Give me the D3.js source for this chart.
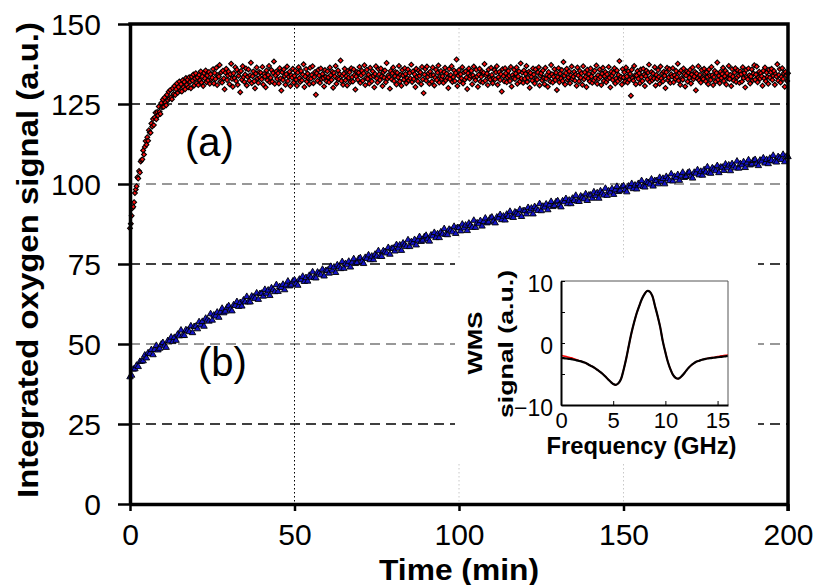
<!DOCTYPE html>
<html><head><meta charset="utf-8">
<script src="https://cdn.jsdelivr.net/npm/d3@7"></script>
<style>
body{margin:0;background:#fff}
svg{display:block}
text{font-family:Arial,"Liberation Sans",sans-serif;fill:#000}
</style>
</head><body>
<svg id="chart" width="815" height="585"></svg>
<script>
// ---------------- DATA ----------------
const xTicks = [0, 50, 100, 150, 200];
const yTicks = [0, 25, 50, 75, 100, 125, 150];
const timeStepA = 0.25;   // minutes between samples, series (a)
const timeStepB = 0.5;    // minutes between samples, series (b)

// series (a): red diamonds
const seriesA = [
86.2,87.6,90.1,92.5,92.9,94.3,97.2,98.3,99.3,102.1,101.7,104.1,103.6,107.0,107.5,107.7,110.5,109.2,111.6,113.4,
112.3,114.6,113.5,116.8,116.1,116.0,118.9,118.0,120.3,118.4,120.8,122.3,120.2,122.5,121.4,124.2,122.6,121.9,125.3,124.0,
126.4,124.1,127.0,125.5,124.6,127.9,126.2,128.8,126.7,129.4,127.1,126.5,129.9,128.1,130.6,127.8,129.6,131.4,128.5,130.3,
132.0,129.1,131.2,128.9,132.4,130.2,131.9,129.6,133.1,131.0,132.6,130.2,133.4,131.9,129.9,133.5,132.3,134.2,130.8,133.0,
134.6,131.5,133.3,130.9,134.1,132.4,135.2,131.7,133.6,130.6,134.7,133.0,135.5,131.8,133.9,132.4,135.0,131.3,134.3,132.7,
133.2,135.9,131.4,134.7,132.8,136.3,130.9,134.1,133.6,137.2,132.0,134.9,131.7,135.4,133.0,129.6,134.8,136.0,132.5,133.9,
135.1,131.2,134.3,137.6,132.9,130.4,134.6,133.1,136.5,132.2,135.7,131.0,133.8,134.9,128.7,135.3,132.6,136.8,133.4,131.9,
134.2,136.1,130.8,133.5,135.8,132.3,134.0,137.9,131.5,133.7,135.2,132.1,129.9,134.5,136.4,133.0,131.6,135.0,133.3,134.8,
132.7,136.6,131.1,134.4,133.6,130.2,135.5,132.4,134.1,136.9,131.8,133.2,135.6,132.0,134.7,138.3,131.3,133.9,135.2,132.8,
134.6,131.4,136.2,133.0,129.2,134.9,132.5,135.8,133.7,131.0,134.3,136.7,132.2,133.5,135.1,130.6,134.0,133.2,136.0,131.7,
133.8,135.4,132.6,130.7,134.8,136.5,133.1,131.9,135.3,132.4,134.2,137.4,130.3,133.6,135.9,132.0,134.5,133.0,131.2,136.3,
132.9,134.1,136.8,131.5,133.4,135.0,127.9,134.6,132.3,135.7,133.9,131.6,136.1,132.8,134.4,133.1,130.5,135.6,133.5,132.1,
135.2,133.3,131.8,136.4,134.0,132.5,135.1,130.1,134.7,133.6,136.9,131.3,133.0,135.5,132.7,134.3,138.6,132.2,133.8,131.0,
134.5,136.0,132.4,133.7,130.8,135.3,133.2,134.9,131.9,136.2,133.4,132.0,135.8,134.1,129.5,133.6,135.0,132.6,134.8,136.6,
131.6,133.9,135.4,132.3,134.6,137.1,130.9,133.1,135.7,132.8,134.2,131.4,136.3,133.5,132.1,135.2,133.8,130.2,134.4,136.8,
133.0,131.7,135.9,134.3,132.5,136.1,133.6,130.6,134.9,133.2,135.5,131.8,137.8,132.9,134.0,133.4,129.8,135.3,132.7,134.6,
136.4,132.2,133.7,135.0,131.1,134.8,133.3,136.9,132.0,134.1,130.7,135.6,133.9,132.6,136.2,134.4,131.5,133.1,135.8,132.4,
134.7,133.0,137.3,131.9,135.2,132.8,134.3,130.3,136.0,133.5,132.1,135.4,133.8,134.9,131.2,136.6,132.7,128.4,134.2,135.9,
132.3,136.7,133.4,134.6,131.3,135.1,133.9,132.0,136.4,134.0,130.8,133.2,135.7,132.5,134.8,137.0,131.7,133.6,135.3,132.9,
133.7,131.6,135.0,136.3,132.4,134.5,133.1,130.0,135.9,132.8,134.1,136.8,131.9,133.4,135.5,132.2,134.7,138.9,130.6,133.8,
135.6,132.1,134.3,133.0,136.5,131.4,134.9,132.6,135.2,133.3,129.7,134.6,136.1,132.9,133.8,135.4,131.2,134.0,136.7,133.1,
132.4,135.7,133.6,130.4,134.2,136.0,132.0,133.5,135.1,131.7,134.8,137.5,132.3,133.9,134.5,130.9,135.8,133.2,132.6,136.3,
134.1,131.5,133.0,135.6,132.7,134.9,136.8,131.0,133.4,135.0,132.5,134.3,128.9,135.9,133.7,132.1,136.2,134.6,131.8,133.3,
135.3,133.8,132.2,136.6,130.5,134.0,133.1,135.7,132.8,134.5,136.4,131.3,133.6,135.2,132.0,137.7,133.0,134.8,131.6,135.5,
132.9,134.4,136.9,131.9,133.2,135.1,130.1,134.7,133.5,132.3,136.1,134.2,131.4,135.8,133.0,132.6,134.9,136.5,130.8,133.9,
134.6,132.4,135.5,133.1,131.2,136.3,132.9,134.1,130.4,135.0,133.7,132.0,137.2,134.3,131.7,133.5,135.9,132.5,134.8,129.4,
133.4,136.2,131.8,134.5,133.0,135.6,132.2,138.1,133.8,131.1,134.7,136.0,132.6,133.3,135.2,131.5,134.0,136.7,132.8,133.6,
135.1,132.3,134.2,130.7,136.4,133.9,132.1,135.3,133.2,134.6,131.0,136.8,132.7,134.9,133.5,130.3,135.7,133.0,134.4,132.0,
136.1,133.6,131.6,134.8,132.4,135.4,133.1,137.0,131.3,134.0,132.9,135.8,133.4,130.9,134.5,136.3,132.2,133.7,135.0,131.8,
134.3,132.7,136.6,133.2,130.2,135.1,133.8,132.5,134.7,136.2,131.4,133.0,135.5,132.1,134.1,138.4,132.8,133.5,131.1,135.9,
133.3,134.9,132.0,136.4,133.6,131.7,135.2,132.6,134.4,127.6,135.7,133.1,132.3,136.9,134.0,131.2,133.9,135.3,132.9,134.6,
131.5,135.8,133.4,132.2,136.0,134.2,130.6,133.7,135.4,132.7,134.8,137.3,131.9,133.2,135.0,132.4,134.5,133.0,136.5,130.8,
134.1,132.8,135.6,133.5,131.3,136.7,133.0,134.6,132.1,135.1,133.8,130.0,134.9,136.3,132.5,133.3,135.9,131.6,134.3,133.6,
136.2,131.8,134.0,132.9,135.3,133.4,137.6,132.3,134.7,131.0,135.5,133.1,132.6,136.1,134.4,130.5,133.9,135.2,132.0,134.8,
133.2,135.7,131.4,134.2,136.4,132.7,133.6,135.0,129.3,134.5,133.0,136.8,132.4,134.1,131.7,135.6,133.3,132.8,136.0,134.6,
132.1,134.9,133.5,131.2,135.8,133.9,132.5,136.6,134.0,130.9,133.4,135.3,132.0,134.7,138.0,132.6,133.8,131.5,135.1,133.1,
134.4,136.3,132.2,133.7,135.4,131.1,134.6,133.0,136.9,132.8,134.1,130.6,135.9,133.6,132.3,134.8,136.2,131.9,133.3,135.5,
133.9,131.6,135.2,134.3,132.0,136.5,133.1,134.7,130.2,135.6,133.4,132.7,136.1,134.0,131.4,133.6,135.8,132.4,134.5,137.1,
132.6,134.2,136.7,131.8,133.3,135.1,132.9,134.6,133.7,130.7,135.4,133.0,136.4,132.1,134.8,133.5,131.3,135.7,133.2,134.9,
136.0,132.5,133.8,135.3,131.0,134.4,133.6,137.4,132.3,134.1,135.9,131.7,133.5,136.2,132.8,134.7,130.4,135.0,133.9,132.2,
134.6
];

// series (b): blue triangles
const seriesB = [
39.7,40.2,42.1,42.2,43.3,42.9,44.5,44.6,44.7,46.5,
45.6,47.2,47.0,48.2,46.6,48.2,49.5,48.1,48.6,49.9,
50.4,49.4,48.9,51.0,50.9,52.1,50.7,52.0,51.1,53.0,
52.5,54.3,52.6,52.6,54.4,54.2,53.8,55.6,53.5,55.4,
55.5,54.7,56.9,55.9,57.0,55.5,58.0,57.5,57.1,59.4,
57.4,59.0,58.7,59.9,58.3,59.9,61.1,59.7,60.2,61.4,
61.9,60.8,60.3,62.2,62.0,63.2,61.7,62.9,61.8,63.7,
63.1,64.8,63.1,63.1,64.9,64.6,64.2,65.9,63.9,65.7,
65.8,64.9,67.0,65.8,66.8,65.1,67.5,66.9,66.3,68.5,
66.4,67.9,67.6,68.6,66.9,68.4,69.6,68.1,68.4,69.6,
70.0,68.9,68.3,70.2,70.0,71.1,69.5,70.7,69.6,71.4,
70.8,72.5,70.7,70.6,72.4,72.1,71.6,73.3,71.2,72.9,
73.0,72.1,74.2,73.0,74.0,72.3,74.7,74.1,73.5,75.7,
73.6,75.1,74.7,75.8,74.0,75.5,76.6,75.1,75.4,76.6,
76.9,75.8,75.1,77.0,76.7,77.8,76.3,77.4,76.3,78.0,
77.4,79.1,77.4,77.3,79.1,78.8,78.4,80.1,78.0,79.8,
79.9,79.0,81.0,79.9,80.9,79.2,81.5,80.9,80.4,82.5,
80.4,81.9,81.5,82.6,80.9,82.4,83.5,82.0,82.4,83.5,
83.9,82.8,82.1,84.0,83.7,84.8,83.2,84.4,83.2,85.0,
84.3,86.0,84.2,84.1,85.8,85.5,85.0,86.7,84.5,86.3,
86.3,85.3,87.4,86.2,87.1,85.4,87.7,87.0,86.4,88.6,
86.4,87.8,87.5,88.5,86.8,88.2,89.3,87.8,88.1,89.3,
89.6,88.4,87.8,89.6,89.3,90.4,88.8,89.9,88.7,90.5,
89.8,91.4,89.7,89.5,91.2,90.9,90.4,92.0,89.8,91.6,
91.6,90.6,92.6,91.5,92.4,90.6,92.9,92.2,91.7,93.8,
91.6,93.0,92.7,93.7,91.9,93.4,94.5,92.9,93.2,94.4,
94.7,93.5,92.8,94.7,94.4,95.4,93.8,94.9,93.8,95.5,
94.8,96.4,94.6,94.5,96.2,95.8,95.3,96.9,94.8,96.5,
96.5,95.5,97.5,96.3,97.2,95.5,97.8,97.1,96.5,98.6,
96.4,97.8,97.4,98.5,96.7,98.1,99.2,97.6,98.0,99.1,
99.4,98.2,97.5,99.3,99.0,100.1,98.5,99.6,98.4,100.1,
99.4,101.0,99.2,99.0,100.7,100.4,99.9,101.5,99.3,101.0,
101.0,100.0,102.0,100.8,101.7,100.0,102.3,101.6,101.0,103.1,
100.9,102.3,101.9,102.9,101.1,102.5,103.6,102.0,102.3,103.4,
103.7,102.5,101.8,103.6,103.3,104.4,102.8,103.9,102.7,104.4,
103.7,105.3,103.5,103.3,105.0,104.6,104.1,105.7,103.5,105.2,
105.2,104.2,106.2,105.0,105.9,104.1,106.3,105.6,105.0,107.1,
104.9,106.3,105.9,106.9,105.1,106.5,107.5,105.9,106.2,107.3,
107.6,106.4,105.7,107.4,107.1,108.1,106.5,107.6,106.3,108.0,
107.3,108.9,107.1,106.8,108.5,108.1,107.6,109.2,106.9,108.6,
108.5
];

// inset: WMS signal vs frequency
const insetFreqStep = 0.25;
const insetXTicks = [0, 5, 10, 15];
const insetYTicks = [-10, 0, 10];
const insetBlack = [
-2.4,-2.45,-2.5,-2.55,-2.6,-2.7,-2.8,-2.9,-3.0,-3.15,-3.35,-3.6,-3.8,-4.05,-4.35,-4.65,
-5.0,-5.4,-5.85,-6.25,-6.6,-6.75,-6.5,-5.8,-4.3,-2.5,-0.4,1.6,3.3,4.8,6.0,7.1,
7.9,8.4,8.3,7.6,6.0,4.4,2.6,0.3,-1.5,-3.1,-4.3,-5.2,-5.65,-5.75,-5.45,-5.0,
-4.45,-3.95,-3.55,-3.25,-3.0,-2.85,-2.7,-2.6,-2.5,-2.45,-2.4,-2.35,-2.3,-2.25,-2.2,-2.15,
-2.1
];
const insetRed = [
-2.0,-2.1,-2.2,-2.3,-2.4,-2.55,-2.7,-2.85,-3.0,-3.15,-3.35,-3.6,-3.8,-4.05,-4.35,-4.65,
-5.0,-5.4,-5.85,-6.25,-6.6,-6.75,-6.5,-5.8,-4.3,-2.5,-0.4,1.6,3.3,4.8,6.0,7.1,
7.9,8.4,8.3,7.6,6.0,4.4,2.6,0.3,-1.5,-3.1,-4.3,-5.2,-5.65,-5.75,-5.45,-5.0,
-4.45,-3.95,-3.55,-3.25,-3.0,-2.85,-2.7,-2.6,-2.5,-2.4,-2.35,-2.3,-2.2,-2.1,-2.05,-2.0,
-1.9
];

// ---------------- DRAW ----------------
const svg = d3.select("#chart");
const L = 130, R = 788, T = 24, B = 504;
const x = d3.scaleLinear().domain([0, 200]).range([L, R]);
const y = d3.scaleLinear().domain([0, 150]).range([B, T]);
const FONT = "Arial,'Liberation Sans',sans-serif";

// horizontal dashed gridlines
const hGridColor = v => (v === 100 || v === 50) ? "#777" : "#000";
svg.append("g").selectAll("line").data(yTicks.filter(v => v > 0 && v < 150)).join("line")
  .attr("x1", L).attr("x2", R).attr("y1", d => y(d)).attr("y2", d => y(d))
  .attr("stroke", hGridColor).attr("stroke-width", 1.3).attr("stroke-dasharray", "10,6");

// vertical dotted gridlines
svg.append("g").selectAll("line").data(xTicks.filter(v => v > 0 && v < 200)).join("line")
  .attr("x1", d => x(d)).attr("x2", d => x(d)).attr("y1", T).attr("y2", B)
  .attr("stroke", d => d === 50 ? "#000" : "#c8c8c8").attr("stroke-width", 1)
  .attr("stroke-dasharray", "1.5,2.5");

// series (b): triangles
const triPath = d3.symbol(d3.symbolTriangle, 18)();
svg.append("g").selectAll("path").data(seriesB).join("path")
  .attr("d", triPath)
  .attr("transform", (d, i) => `translate(${x(i * timeStepB)},${y(d)})`)
  .attr("fill", "#1414c8").attr("stroke", "#000").attr("stroke-width", 0.9);

// series (a): diamonds
const diaPath = d3.symbol(d3.symbolSquare, 12)();
svg.append("g").selectAll("path").data(seriesA).join("path")
  .attr("d", diaPath)
  .attr("transform", (d, i) => `translate(${x(i * timeStepA)},${y(d)}) rotate(45)`)
  .attr("fill", "#ff1010").attr("stroke", "#000").attr("stroke-width", 1.1);

// labels (a), (b)
svg.append("text").attr("x", 185).attr("y", 156).attr("font-size", 40).text("(a)");
svg.append("text").attr("x", 198).attr("y", 376).attr("font-size", 40).text("(b)");

// ---------- inset ----------
svg.append("rect").attr("x", 455).attr("y", 258).attr("width", 303).attr("height", 204).attr("fill", "#fff");
const iL = 561, iR = 728, iT = 281, iB = 405;
const ix = d3.scaleLinear().domain([0, 16]).range([iL, iR]);
const iy = d3.scaleLinear().domain([-10, 10]).range([iB, iT]);
const line = d3.line().x((d, i) => ix(i * insetFreqStep)).y(d => iy(d)).curve(d3.curveCatmullRom);
svg.append("path").datum(insetRed).attr("d", line).attr("fill", "none").attr("stroke", "#ff0000").attr("stroke-width", 1.6);
svg.append("path").datum(insetBlack).attr("d", line).attr("fill", "none").attr("stroke", "#000").attr("stroke-width", 2.2);
// frame top/right thin
svg.append("path").attr("d", `M${iL},${iT}H${iR}V${iB}`).attr("fill", "none").attr("stroke", "#555").attr("stroke-width", 1);
// inset axes
const ixAxis = svg.append("g").attr("transform", `translate(0,${iB})`)
  .call(d3.axisBottom(ix).tickValues(insetXTicks).tickSize(-4).tickSizeOuter(0).tickFormat(d3.format("d")));
ixAxis.selectAll("text").attr("dy", null).attr("y", 23).attr("font-size", 22).attr("font-family", FONT);
const iyAxis = svg.append("g").attr("transform", `translate(${iL},0)`)
  .call(d3.axisLeft(iy).tickValues([-10, -5, 0, 5, 10]).tickSize(-4).tickSizeOuter(0)
    .tickFormat(d => insetYTicks.includes(d) ? d3.format("d")(d) : ""));
iyAxis.selectAll("text").attr("dy", "10px").attr("x", -8).attr("font-size", 23).attr("font-family", FONT);
[ixAxis, iyAxis].forEach(g => {
  g.select(".domain").attr("stroke", "#000").attr("stroke-width", 2);
  g.selectAll(".tick line").attr("stroke", "#000").attr("stroke-width", 1);
});
svg.append("text").attr("x", (iL + iR) / 2 - 3).attr("y", 454).attr("text-anchor", "middle")
  .attr("font-size", 23).attr("font-weight", "bold").attr("textLength", 190).attr("lengthAdjust", "spacingAndGlyphs")
  .text("Frequency (GHz)");
svg.append("text").attr("transform", "translate(482,343) rotate(-90)").attr("text-anchor", "middle")
  .attr("font-size", 21).attr("font-weight", "bold").attr("textLength", 63).attr("lengthAdjust", "spacingAndGlyphs").text("WMS");
svg.append("text").attr("transform", "translate(513,344) rotate(-90)").attr("text-anchor", "middle")
  .attr("font-size", 20).attr("font-weight", "bold").attr("textLength", 148).attr("lengthAdjust", "spacingAndGlyphs").text("signal (a.u.)");

// ---------- main axes ----------
const xAxis = svg.append("g").attr("transform", `translate(0,${B})`)
  .call(d3.axisBottom(x).tickValues(xTicks).tickSize(7).tickSizeOuter(0));
xAxis.selectAll("text").attr("dy", null).attr("y", 41).attr("font-size", 30).attr("font-family", FONT);
const yAxis = svg.append("g").attr("transform", `translate(${L},0)`)
  .call(d3.axisLeft(y).tickValues(yTicks).tickSize(12).tickSizeOuter(0).tickPadding(17));
yAxis.selectAll("text").attr("dy", "0.36em").attr("font-size", 30).attr("font-family", FONT);
[xAxis, yAxis].forEach(g => {
  g.select(".domain").attr("stroke", "#000").attr("stroke-width", 3.5);
  g.selectAll(".tick line").attr("stroke", "#000").attr("stroke-width", 2.5);
});
// top & right frame
svg.append("path").attr("d", `M${L - 1.75},${T}H${R}V${B + 7}`).attr("fill", "none")
  .attr("stroke", "#000").attr("stroke-width", 3.5);

// axis titles
svg.append("text").attr("x", 459).attr("y", 580).attr("text-anchor", "middle")
  .attr("font-size", 30).attr("font-weight", "bold").attr("textLength", 160).attr("lengthAdjust", "spacingAndGlyphs")
  .text("Time (min)");
svg.append("text").attr("transform", "translate(38,260) rotate(-90)").attr("text-anchor", "middle")
  .attr("font-size", 30).attr("font-weight", "bold").attr("textLength", 476).attr("lengthAdjust", "spacingAndGlyphs")
  .text("Integrated oxygen signal (a.u.)");
</script>
</body></html>
